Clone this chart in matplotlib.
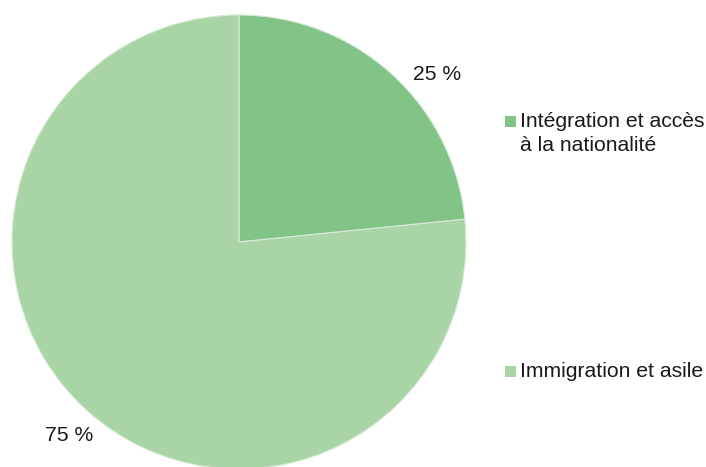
import matplotlib.pyplot as plt
from matplotlib.patches import Rectangle
import numpy as np

categories = ['Intégration et accès\nà la nationalité', 'Immigration et asile']
shares = [23.4, 76.6]
pct_labels = ['25 %', '75 %']
colors = ['#82c388', '#a9d4a6']

plt.rcParams['font.family'] = ['Liberation Sans', 'DejaVu Sans']

fig = plt.figure(figsize=(7.06, 4.67), dpi=100)
ax = fig.add_axes([12 / 706, -2 / 467, 454 / 706, 454 / 467])
wedges, _ = ax.pie(shares, colors=colors, startangle=90, counterclock=False,
                   radius=1, wedgeprops=dict(linewidth=0.8, edgecolor='#d8ead6'))
ax.set_xlim(-1, 1)
ax.set_ylim(-1, 1)
ax.set_aspect('equal')
ax.axis('off')

# percentage labels outside the pie
label_pos = [(40.2, 1.144), (228.8, 1.133)]
for txt, (ang, r) in zip(pct_labels, label_pos):
    a = np.deg2rad(ang)
    ax.text(r * np.cos(a), r * np.sin(a), txt, ha='center', va='center',
            fontsize=15.2, color='#1a1a1a', clip_on=False)

# legend
sq_y = [116, 366]
for cat, col, y in zip(categories, colors, sq_y):
    fig.patches.append(Rectangle((505 / 706, 1 - (y + 11) / 467), 11 / 706, 11 / 467,
                                 transform=fig.transFigure, facecolor=col, edgecolor='none'))
    fig.text(520 / 706, 1 - (y - 4) / 467, cat, ha='left', va='top',
             fontsize=15.2, color='#1a1a1a', linespacing=1.32)

fig.savefig('out.png', dpi=100)
